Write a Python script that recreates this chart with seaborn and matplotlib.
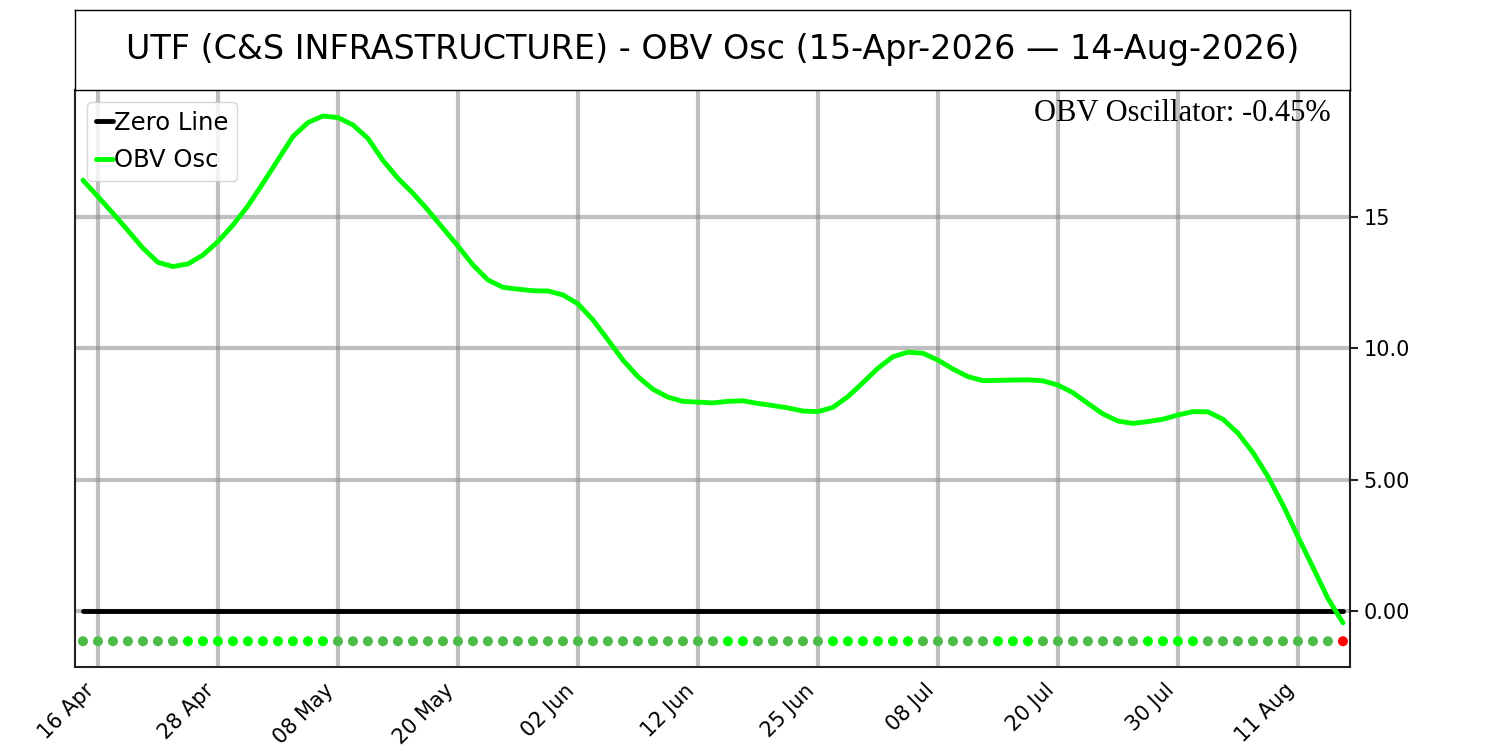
import matplotlib
matplotlib.use("Agg")
import matplotlib.pyplot as plt
import numpy as np
import pandas as pd
import seaborn as sns

# OBV oscillator values, one per trading day (15 Apr 2026 .. 14 Aug 2026)
obv_osc = [
    16.40, 15.77, 15.14, 14.48, 13.81, 13.27, 13.11, 13.21, 13.55, 14.06,
    14.69, 15.42, 16.28, 17.17, 18.06, 18.59, 18.84, 18.78, 18.50, 17.99,
    17.15, 16.47, 15.90, 15.26, 14.57, 13.89, 13.17, 12.60, 12.32, 12.25,
    12.19, 12.18, 12.03, 11.69, 11.08, 10.32, 9.55, 8.92, 8.44, 8.14,
    7.98, 7.95, 7.92, 7.98, 8.00, 7.90, 7.82, 7.73, 7.61, 7.59,
    7.75, 8.16, 8.69, 9.24, 9.68, 9.85, 9.81, 9.55, 9.21, 8.92,
    8.77, 8.78, 8.79, 8.80, 8.76, 8.60, 8.31, 7.90, 7.50, 7.23,
    7.14, 7.21, 7.30, 7.46, 7.59, 7.58, 7.30, 6.77, 6.03, 5.12,
    4.04, 2.83, 1.66, 0.48, -0.45,
]
tick_labels = ["16 Apr", "28 Apr", "08 May", "20 May", "02 Jun", "12 Jun",
               "25 Jun", "08 Jul", "20 Jul", "30 Jul", "11 Aug"]
ytick_vals = [0, 5, 10, 15]
ytick_text = ["0.00", "5.00", "10.0", "15"]
dot_level = -1.15

df = pd.DataFrame({"idx": np.arange(len(obv_osc)), "osc": obv_osc})
df["zero"] = 0.0
df["dot"] = dot_level
diff = df["osc"].diff().fillna(0)
df["state"] = np.where(df["osc"] < 0, "neg", np.where(diff > 0, "up", "down"))

sns.set_style("white", rc={"text.color": "black", "xtick.color": "black",
                           "ytick.color": "black", "axes.edgecolor": "#222222"})
plt.rcParams["font.family"] = ["DejaVu Sans"]

fig = plt.figure(figsize=(15, 7.5), dpi=100)
ax = fig.add_axes([0.05, 0.1107, 0.85, 0.7693])
tax = fig.add_axes([0.05, 0.88, 0.85, 0.1067])

# title box
tax.set_xticks([])
tax.set_yticks([])
for s in tax.spines.values():
    s.set_color("black")
    s.set_linewidth(1)
tax.text(0.5, 0.5, "UTF (C&S INFRASTRUCTURE) - OBV Osc (15-Apr-2026 \u2014 14-Aug-2026)",
         ha="center", va="center", fontsize=24, transform=tax.transAxes)

ax.grid(True, color="gray", alpha=0.5, linewidth=3)
ax.set_axisbelow(True)

sns.lineplot(data=df, x="idx", y="zero", ax=ax, color="black", linewidth=3.5,
             label="Zero Line")
sns.lineplot(data=df, x="idx", y="osc", ax=ax, color="#00ff00", linewidth=3.5,
             label="OBV Osc")
sns.scatterplot(data=df, x="idx", y="dot", hue="state", ax=ax, s=52,
                linewidth=0, legend=False, zorder=3,
                palette={"up": "#00ff00", "down": "#4cbb47", "neg": "#ff0000"})

ax.set_xlim(-0.53, 84.47)
ax.set_ylim(-2.13, 19.83)
ax.set_xticks(list(range(1, len(obv_osc), 8)))
ax.set_xticklabels(tick_labels, rotation=45, ha="right")
ax.yaxis.tick_right()
ax.set_yticks(ytick_vals)
ax.set_yticklabels(ytick_text)
ax.tick_params(axis="both", length=6, width=1.5, color="#222222", labelsize=15)
ax.set_xlabel("")
ax.set_ylabel("")
for s in ax.spines.values():
    s.set_linewidth(1.5)

ax.legend(loc="upper left", fontsize=17.5, handlelength=0.7, handletextpad=0.05,
          borderpad=0.35, labelspacing=0.55, borderaxespad=0.5)

ax.text(0.985, 0.985, f"OBV Oscillator: {obv_osc[-1]:.2f}%", transform=ax.transAxes,
        ha="right", va="top", fontsize=22, family="Liberation Serif")

fig.savefig("out.png", dpi=100)
